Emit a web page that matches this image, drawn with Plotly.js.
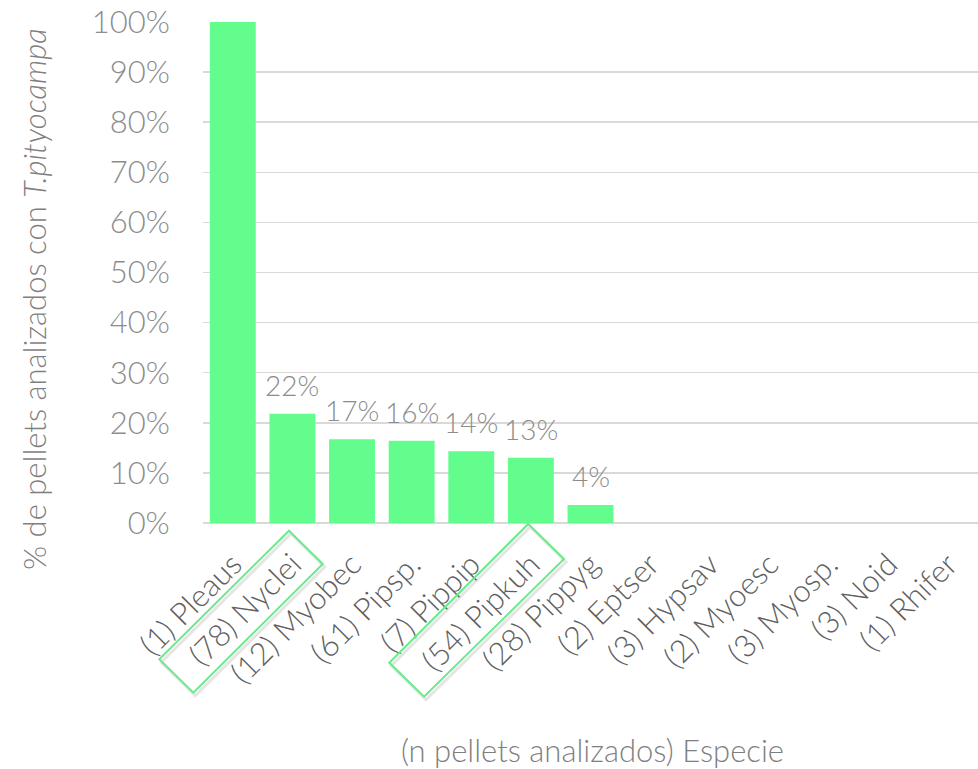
<!DOCTYPE html>
<html>
<head>
<meta charset="utf-8">
<script src="https://cdn.plot.ly/plotly-3.0.1.min.js"></script>
<style>html,body{margin:0;padding:0;background:#fff;}#chart{width:978px;height:769px;}</style>
</head>
<body>
<div id="chart"></div>
<script>
const categories = ["(1) Pleaus","(78) Nyclei","(12) Myobec","(61) Pipsp.","(7) Pippip","(54) Pipkuh","(28) Pippyg","(2) Eptser","(3) Hypsav","(2) Myoesc","(3) Myosp.","(3) Noid","(1) Rhifer"];
const percentValues = [100, 21.8, 16.7, 16.4, 14.3, 13.0, 3.6, null, null, null, null, null, null];
const valueLabels = ["", "22%", "17%", "16%", "14%", "13%", "4%", "", "", "", "", "", ""];
const highlighted = ["(78) Nyclei", "(54) Pipkuh"];

const W = 978, H = 769;
const M = {l: 203, r: 0, t: 22, b: 246};
const pw = W - M.l - M.r, ph = H - M.t - M.b;
function px(x){ return ((x - M.l) / pw).toFixed(4); }
function py(y){ return ((H - M.b - y) / ph).toFixed(4); }
function boxPath(pts){ return 'M ' + pts.map(p => px(p[0]) + ',' + py(p[1])).join(' L ') + ' Z'; }

const boxes = [
  [[289,530.7],[322.7,564],[193.3,692.7],[159.3,659.3]],
  [[528.3,524],[564,559],[424,696.7],[389.3,662.7]]
];
const shapes = [];
boxes.forEach(b => {
  shapes.push({type:'path', xref:'paper', yref:'paper', path: boxPath(b.map(p=>[p[0]+2,p[1]+3])), line:{color:'rgba(0,0,0,0.10)', width:3}, layer:'below'});
  shapes.push({type:'path', xref:'paper', yref:'paper', path: boxPath(b), line:{color:'#6be98c', width:2}});
});

const fam = 'Lato, "Open Sans", sans-serif';
const WT = 300;

const annotations = [];
categories.forEach((c, i) => {
  if (valueLabels[i] && percentValues[i] != null) {
    annotations.push({x: c, y: percentValues[i], xref: 'x', yref: 'y', text: valueLabels[i], showarrow: false,
      yanchor: 'bottom', yshift: 10, font: {family: fam, weight: WT, size: 28, color: '#8c8c8c'}});
  }
});
annotations.push({text: '% de pellets analizados con <i>T.pityocampa</i>', xref: 'paper', yref: 'paper',
  x: px(34), y: py(299), textangle: -90, showarrow: false, xanchor: 'center', yanchor: 'middle',
  font: {family: fam, weight: WT, size: 31, color: '#7f7f7f'}});
annotations.push({text: '(n pellets analizados) Especie', xref: 'paper', yref: 'paper',
  x: px(593), y: py(750), showarrow: false, xanchor: 'center', yanchor: 'middle',
  font: {family: fam, weight: WT, size: 31, color: '#7f7f7f'}});

Plotly.newPlot('chart', [{
  type: 'bar',
  x: categories,
  y: percentValues,
  marker: {color: '#63fd8e'},
  hoverinfo: 'none'
}], {
  width: W, height: H,
  margin: M,
  paper_bgcolor: '#fff', plot_bgcolor: '#fff',
  bargap: 0.23,
  showlegend: false,
  font: {family: fam, weight: WT, color: '#7f7f7f'},
  xaxis: {
    type: 'category',
    tickangle: -45,
    tickfont: {family: fam, weight: WT, size: 31, color: '#606060'},
    showgrid: false, showline: false, zeroline: false,
    ticks: 'outside', ticklen: 10, tickcolor: 'rgba(0,0,0,0)'
  },
  yaxis: {
    range: [0, 100],
    tickvals: [0,10,20,30,40,50,60,70,80,90,100],
    ticktext: ['0%','10%','20%','30%','40%','50%','60%','70%','80%','90%','100%'],
    tickfont: {family: fam, weight: WT, size: 31, color: '#8c8c8c'},
    gridcolor: '#d9d9d9', gridwidth: 1.5,
    zeroline: true, zerolinecolor: '#d9d9d9', zerolinewidth: 1.5,
    ticks: 'outside', ticklen: 26, tickcolor: 'rgba(0,0,0,0)'
  },
  annotations: annotations,
  shapes: shapes
}, {staticPlot: true});
</script>
</body>
</html>
